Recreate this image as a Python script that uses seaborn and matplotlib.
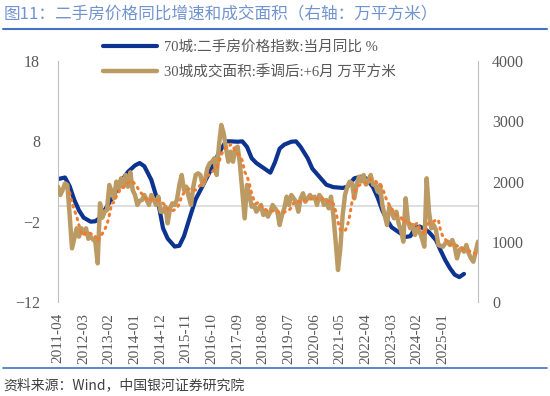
import numpy as np
import pandas as pd
import matplotlib
matplotlib.use("Agg")
import matplotlib.pyplot as plt
from matplotlib.lines import Line2D
import seaborn as sns

# 70城二手房价格指数 当月同比 (%)
price_dates = ["2011-04", "2011-07", "2011-09", "2011-11", "2012-01", "2012-03", "2012-06", "2012-08",
               "2012-10", "2013-01", "2013-04", "2013-07", "2013-10", "2014-01", "2014-03", "2014-05",
               "2014-08", "2014-11", "2015-01", "2015-03", "2015-06", "2015-08", "2015-10", "2016-01",
               "2016-03", "2016-05", "2016-08", "2016-11", "2017-01", "2017-04", "2017-06", "2017-09",
               "2017-11", "2018-01", "2018-03", "2018-05", "2018-08", "2018-11", "2019-01", "2019-03",
               "2019-05", "2019-08", "2019-10", "2019-12", "2020-03", "2020-05", "2020-08", "2020-11",
               "2021-02", "2021-06", "2021-08", "2021-11", "2022-02", "2022-04", "2022-07", "2022-09",
               "2022-11", "2023-01", "2023-03", "2023-06", "2023-09", "2023-11", "2024-01", "2024-03",
               "2024-05", "2024-07", "2024-10", "2024-12", "2025-02", "2025-04", "2025-06", "2025-08",
               "2025-09", "2025-10"]
price_yoy = [3.3, 3.5, 2.4, 0.7, -0.6, -1.5, -2.0, -1.95,
             -1.5, -0.1, 1.3, 3.0, 4.2, 5.0, 5.3, 4.9,
             3.2, 0.3, -2.8, -4.1, -5.1, -5.0, -3.8, -1.0,
             0.8, 1.9, 3.6, 5.3, 6.6, 8.0, 8.0, 7.95,
             8.0, 7.3, 5.9, 5.3, 4.7, 4.1, 5.4, 7.1,
             7.6, 7.95, 8.0, 7.3, 5.9, 4.6, 3.6, 2.6,
             2.3, 2.2, 2.35, 3.4, 3.6, 3.4, 2.3, 1.0,
             -0.6, -1.8, -2.7, -3.3, -3.9, -3.8, -2.8, -2.6,
             -2.9, -3.3, -4.3, -5.6, -6.8, -7.8, -8.6, -8.9,
             -8.7, -8.5]

# 30城成交面积 季调后 +6月 (万平方米), monthly from 2011-04
area_start = "2011-04"
area = [1914, 1776, 1860, 1970, 1942, 1444, 891, 1057, 1223, 1084,
        1223, 1140, 1223, 1050, 1084, 1040, 1001, 642, 1638, 1400,
        1499, 1527, 1942, 1831, 1721, 1997, 1887, 2053, 1914, 2108,
        1914, 2153, 1859, 1776, 1610, 1680, 1693, 1776, 1693, 1610,
        1776, 1700, 1610, 1748, 1499, 1499, 1582, 1306, 1555, 1638,
        1610, 1700, 1942, 2108, 1859, 1914, 1750, 1610, 1914, 2108,
        2136, 2108, 1942, 2025, 2219, 2302, 2329, 2385, 2108, 2606,
        2938, 2800, 2551, 2329, 2495, 2329, 2551, 2578, 2274, 1831,
        1389, 1942, 1776, 1582, 1610, 1499, 1550, 1610, 1444, 1499,
        1416, 1499, 1610, 1555, 1499, 1278, 1444, 1555, 1748, 1610,
        1776, 1720, 1665, 1499, 1721, 1804, 1665, 1721, 1776, 1721,
        1748, 1610, 1776, 1721, 1610, 1693, 1555, 1748, 1444, 1001,
        531, 891, 1444, 1776, 1914, 1997, 1970, 1720, 1950, 2080,
        2000, 2108, 1950, 2000, 2108, 1950, 1942, 1831, 1942, 1610,
        1444, 1278, 1582, 1499, 1389, 1499, 1300, 1195, 1001, 1721,
        1333, 1223, 1278, 1112, 1223, 1167, 1050, 918, 2053, 1499,
        1223, 1278, 1195, 946, 930, 918, 974, 1001, 946, 1029,
        918, 725, 863, 891, 835, 946, 808, 725, 669, 835,
        1001]

tick_labels = ["2011-04", "2012-03", "2013-02", "2014-01", "2014-12", "2015-11",
               "2016-10", "2017-09", "2018-08", "2019-07", "2020-06", "2021-05",
               "2022-04", "2023-03", "2024-02", "2025-01"]

label_price = "70城:二手房价格指数:当月同比 %"
label_area = "30城成交面积:季调后:+6月 万平方米"
title = "图11：二手房价格同比增速和成交面积（右轴：万平方米）"
source = "资料来源：Wind，中国银河证券研究院"

sns.set_style("white")
plt.rcParams["font.family"] = ["Liberation Serif", "Noto Sans CJK SC", "DejaVu Sans"]
cjk = ["Noto Sans CJK SC", "DejaVu Sans"]

months = pd.period_range(area_start, periods=len(area), freq="M")
area_df = pd.DataFrame({"pos": np.arange(len(area)), "area": area})
area_df["ma"] = area_df["area"].rolling(6).mean()  # 6-period moving-average trendline
price_df = pd.DataFrame({
    "pos": [(pd.Period(d, "M") - months[0]).n for d in price_dates],
    "yoy": price_yoy,
})

blue = "#0d3390"
tan = "#bb9b63"
orange = "#ee7d31"
grey_txt = "#595959"
axis_c = "#bfbfbf"

fig = plt.figure(figsize=(5.5, 3.96), dpi=100)
ax = fig.add_axes([58 / 550, 1 - 302 / 396, 420 / 550, 241 / 396])
ax.axhline(0, color="#d9d9d9", lw=1.2, zorder=0)
sns.lineplot(data=price_df, x="pos", y="yoy", ax=ax, color=blue, lw=3.0, legend=False)

ax2 = ax.twinx()
sns.lineplot(data=area_df, x="pos", y="area", ax=ax2, color=tan, lw=3.2, legend=False)
sns.lineplot(data=area_df, x="pos", y="ma", ax=ax2, color=orange, lw=2.2, legend=False,
             linestyle=(0, (0.5, 1.7)), dash_capstyle="round")

n_ticks = len(tick_labels)
ax.set_xlim(0, len(area) - 1)
ax.set_ylim(-12, 18)
ax2.set_ylim(0, 4000)
ax.set_yticks([-12, -2, 8, 18])
ax2.set_yticks([0, 1000, 2000, 3000, 4000])
ax.set_xticks(np.arange(n_ticks) * 11)
ax.set_xticklabels(tick_labels, rotation=90)
ax.set_xlabel("")
ax.set_ylabel("")
ax2.set_ylabel("")

for a in (ax, ax2):
    for s in ("top", "bottom"):
        a.spines[s].set_visible(False)
    a.tick_params(length=0, labelsize=11.5, colors=grey_txt)
ax2.spines["left"].set_visible(False)
ax.spines["right"].set_visible(False)
ax.spines["left"].set_color(axis_c)
ax2.spines["right"].set_color(axis_c)
ax.tick_params(axis="y", pad=13)
ax.tick_params(axis="x", pad=8, labelsize=11)
ax2.tick_params(axis="y", pad=10)
ax.grid(False)
ax2.grid(False)

handles = [Line2D([], [], color=blue, lw=3.0), Line2D([], [], color=tan, lw=3.2)]
fig.legend(handles, [label_price, label_area], loc="upper left",
           bbox_to_anchor=(103 / 550, 1 - 40 / 396), frameon=False,
           borderpad=0, borderaxespad=0, handlelength=3.7, handletextpad=0.45,
           labelspacing=0.8, prop={"family": ["Liberation Serif", "Noto Sans CJK SC"], "size": 10.5},
           labelcolor=grey_txt)

fig.text(0.006, 1 - 15 / 396, title, fontsize=12, color="#7194d0", va="center", family=cjk)
fig.add_artist(Line2D([0.005, 0.995], [1 - 28.5 / 396] * 2, color="#4472c4", lw=1.5,
                      transform=fig.transFigure))
fig.add_artist(Line2D([0.005, 0.995], [1 - 368 / 396] * 2, color="#4472c4", lw=1.2,
                      transform=fig.transFigure))
fig.text(0.006, 1 - 385 / 396, source, fontsize=10, color="#404040", va="center", family=cjk)

fig.savefig("out.png", dpi=100)
